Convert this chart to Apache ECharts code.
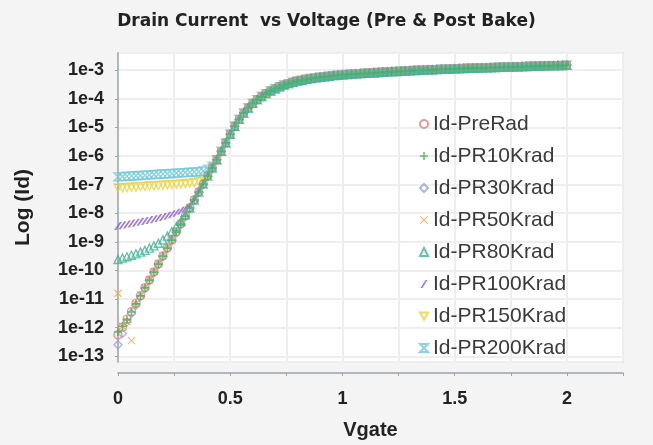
<!DOCTYPE html>
<html>
<head>
<meta charset="utf-8">
<script src="https://cdn.jsdelivr.net/npm/echarts@6/dist/echarts.min.js"></script>
<style>
  html, body { margin: 0; padding: 0; background: #f4f4f4; }
  #chart { width: 653px; height: 445px; }
</style>
</head>
<body>
<div id="chart"></div>
<script>
// Gate voltage sweep (V)
const vgate = [
  0.00, 0.02, 0.04, 0.06, 0.08, 0.10, 0.12, 0.14, 0.16, 0.18,
  0.20, 0.22, 0.24, 0.26, 0.28, 0.30, 0.32, 0.34, 0.36, 0.38,
  0.40, 0.42, 0.44, 0.46, 0.48, 0.50, 0.52, 0.54, 0.56, 0.58,
  0.60, 0.62, 0.64, 0.66, 0.68, 0.70, 0.72, 0.74, 0.76, 0.78,
  0.80, 0.82, 0.84, 0.86, 0.88, 0.90, 0.92, 0.94, 0.96, 0.98,
  1.00, 1.02, 1.04, 1.06, 1.08, 1.10, 1.12, 1.14, 1.16, 1.18,
  1.20, 1.22, 1.24, 1.26, 1.28, 1.30, 1.32, 1.34, 1.36, 1.38,
  1.40, 1.42, 1.44, 1.46, 1.48, 1.50, 1.52, 1.54, 1.56, 1.58,
  1.60, 1.62, 1.64, 1.66, 1.68, 1.70, 1.72, 1.74, 1.76, 1.78,
  1.80, 1.82, 1.84, 1.86, 1.88, 1.90, 1.92, 1.94, 1.96, 1.98,
  2.00
];

// log10(Id) above threshold (Vg = 0.46 .. 2.00), shared by every dose
const logIdOnState = [
  -5.84, -5.54, -5.24, -4.96, -4.72, -4.50, -4.32, -4.16, -4.03, -3.92,
  -3.82, -3.73, -3.65, -3.58, -3.52, -3.47, -3.42, -3.38, -3.35, -3.32,
  -3.29, -3.27, -3.25, -3.23, -3.21, -3.19, -3.18, -3.16,
  -3.15, -3.14, -3.13, -3.12, -3.11, -3.10, -3.09, -3.08, -3.07, -3.06,
  -3.05, -3.045, -3.04, -3.03, -3.02, -3.01, -3.005, -3.00, -2.99, -2.985,
  -2.98, -2.97, -2.965, -2.96, -2.95,
  -2.945, -2.94, -2.935, -2.93, -2.925, -2.92, -2.915, -2.91, -2.905, -2.90,
  -2.895, -2.89, -2.885, -2.88, -2.875, -2.87, -2.865, -2.86, -2.855, -2.85,
  -2.845, -2.84, -2.84, -2.835, -2.83
];

// log10(Id) in subthreshold (Vg = 0.00 .. 0.44), one list per dose
const logIdPreRad = [-12.25, -11.98, -11.70, -11.44, -11.15, -10.88, -10.60, -10.33, -10.05, -9.77, -9.49, -9.21, -8.93, -8.65, -8.37, -8.09, -7.81, -7.53, -7.25, -6.97, -6.69, -6.41, -6.12];
const logIdPR10   = [-12.15, -11.95, -11.72, -11.45, -11.17, -10.89, -10.61, -10.34, -10.06, -9.78, -9.50, -9.22, -8.94, -8.66, -8.38, -8.10, -7.82, -7.54, -7.26, -6.98, -6.70, -6.42, -6.13];
const logIdPR30   = [-12.60, -12.20, -11.80, -11.50, -11.22, -10.93, -10.64, -10.36, -10.08, -9.80, -9.52, -9.24, -8.96, -8.68, -8.40, -8.12, -7.84, -7.56, -7.28, -7.00, -6.72, -6.43, -6.14];
const logIdPR50   = [-10.80, -11.95, -11.78, -12.45, -11.16, -10.86, -10.60, -10.32, -10.04, -9.76, -9.48, -9.20, -8.92, -8.64, -8.36, -8.08, -7.80, -7.52, -7.24, -6.96, -6.68, -6.40, -6.12];
const logIdPR80   = [-9.62, -9.57, -9.52, -9.47, -9.42, -9.36, -9.30, -9.22, -9.14, -9.05, -8.93, -8.80, -8.64, -8.47, -8.28, -8.06, -7.82, -7.54, -7.26, -6.98, -6.70, -6.42, -6.13];
const logIdPR100  = [-8.45, -8.42, -8.39, -8.36, -8.33, -8.30, -8.27, -8.24, -8.21, -8.17, -8.13, -8.09, -8.04, -7.98, -7.91, -7.83, -7.72, -7.52, -7.26, -6.98, -6.70, -6.42, -6.13];
const logIdPR150  = [-7.12, -7.11, -7.10, -7.09, -7.08, -7.07, -7.06, -7.05, -7.04, -7.03, -7.02, -7.01, -7.00, -6.99, -6.98, -6.97, -6.95, -6.93, -6.90, -6.84, -6.68, -6.42, -6.13];
const logIdPR200  = [-6.73, -6.72, -6.71, -6.70, -6.69, -6.68, -6.67, -6.66, -6.65, -6.64, -6.63, -6.62, -6.61, -6.60, -6.59, -6.58, -6.57, -6.56, -6.55, -6.52, -6.46, -6.36, -6.13];

const seriesNames = ['Id-PreRad', 'Id-PR10Krad', 'Id-PR30Krad', 'Id-PR50Krad', 'Id-PR80Krad', 'Id-PR100Krad', 'Id-PR150Krad', 'Id-PR200Krad'];
const subthreshold = [logIdPreRad, logIdPR10, logIdPR30, logIdPR50, logIdPR80, logIdPR100, logIdPR150, logIdPR200];

// marker shapes and colours per dose
const markers = [
  { symbol: 'circle', color: '#e07f86', hollow: true, z: 3 },
  { symbol: 'path://M4,0H6V4H10V6H6V10H4V6H0V4H4Z', color: '#3fb24f', hollow: false, z: 5 },
  { symbol: 'diamond', color: '#8ea8d8', hollow: true, z: 2 },
  { symbol: 'path://M1,0L5,4L9,0L10,1L6,5L10,9L9,10L5,6L1,10L0,9L4,5L0,1Z', color: '#f2a445', hollow: false, z: 2 },
  { symbol: 'triangle', color: '#40b596', hollow: true, z: 6 },
  { symbol: 'path://M7,0H9.5L3,10H0.5Z', color: '#8a5cc8', hollow: false, z: 2 },
  { symbol: 'path://M0,0H10L5,9Z', color: '#e8d33c', hollow: true, z: 2 },
  { symbol: 'path://M0,0H10L0,10H10Z', color: '#6fc9d6', hollow: true, z: 2 }
];

const series = seriesNames.map((name, i) => {
  const logId = subthreshold[i].concat(logIdOnState);
  const m = markers[i];
  return {
    name: name,
    type: 'scatter',
    z: m.z,
    symbol: m.symbol,
    symbolSize: 8,
    itemStyle: m.hollow
      ? { color: 'rgba(255,255,255,0)', borderColor: m.color, borderWidth: 1.4 }
      : { color: m.color, borderWidth: 0 },
    data: vgate.map((v, k) => [v, logId[k]])
  };
});

const chart = echarts.init(document.getElementById('chart'), null, { renderer: 'canvas' });
chart.setOption({
  animation: false,
  backgroundColor: '#f4f4f4',
  title: {
    text: 'Drain Current  vs Voltage (Pre & Post Bake)',
    left: 'center',
    top: 8,
    textStyle: { fontFamily: 'DejaVu Sans', fontWeight: 'bold', fontSize: 17, color: '#222' }
  },
  legend: {
    orient: 'vertical',
    left: 414,
    top: 108,
    itemWidth: 8,
    itemHeight: 8,
    itemGap: 10,
    textStyle: { fontFamily: 'Liberation Sans', fontSize: 21, color: '#3a3a3a', lineHeight: 22 },
    data: seriesNames
  },
  grid: {
    left: 118,
    right: 30,
    top: 53,
    bottom: 72,
    show: true,
    backgroundColor: '#ffffff',
    borderColor: '#d8d0ca',
    borderWidth: 2
  },
  xAxis: {
    type: 'value',
    min: 0,
    max: 2.25,
    interval: 0.25,
    offset: 11,
    name: 'Vgate',
    nameLocation: 'middle',
    nameGap: 47,
    nameTextStyle: { fontFamily: 'Liberation Sans', fontWeight: 'bold', fontSize: 20, color: '#222' },
    axisLine: { lineStyle: { color: '#9aa4aa', width: 1.5 } },
    axisTick: { length: 3, lineStyle: { color: '#9aa4aa' } },
    axisLabel: {
      margin: 17,
      fontFamily: 'Liberation Sans', fontWeight: 'bold', fontSize: 18, color: '#222',
      formatter: v => (Math.abs(v * 2 - Math.round(v * 2)) < 1e-6 && v <= 2) ? String(v) : ''
    },
    splitLine: { show: true, lineStyle: { color: '#eeeeee', width: 2 } }
  },
  yAxis: {
    type: 'value',
    min: -13.2,
    max: -2.4,
    splitNumber: 11,
    offset: 8,
    name: 'Log (Id)',
    nameLocation: 'middle',
    nameGap: 76,
    nameRotate: 90,
    nameTextStyle: { fontFamily: 'Liberation Sans', fontWeight: 'bold', fontSize: 21, color: '#222' },
    axisLine: { show: true, lineStyle: { color: '#9aa4aa', width: 1.5 } },
    axisTick: { show: true, length: 3, lineStyle: { color: '#9aa4aa' } },
    axisLabel: {
      margin: 6,
      showMinLabel: false,
      showMaxLabel: false,
      fontFamily: 'Liberation Sans', fontWeight: 'bold', fontSize: 18, color: '#222',
      formatter: v => (Math.abs(v - Math.round(v)) < 1e-6) ? '1e' + Math.round(v) : ''
    },
    splitLine: { show: true, lineStyle: { color: '#eeeeee', width: 2 } }
  },
  series: series
});
</script>
</body>
</html>
